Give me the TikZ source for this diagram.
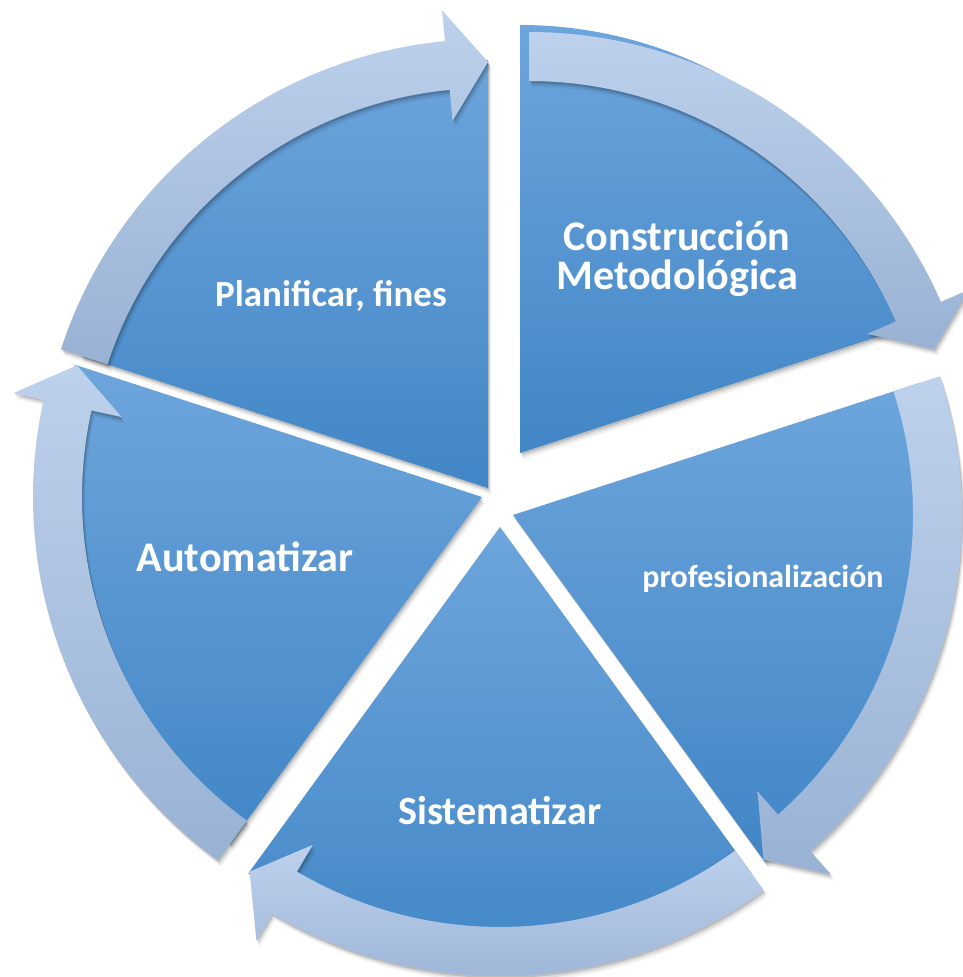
\documentclass[tikz,border=0pt]{standalone}
\usepackage{fontspec}
\setmainfont{Carlito}
\usetikzlibrary{shadows}
\definecolor{segtop}{HTML}{6DA5DC}
\definecolor{segmid}{HTML}{5598D7}
\definecolor{segbot}{HTML}{4186C6}
\definecolor{arrtop}{HTML}{BDD1EC}
\definecolor{arrbot}{HTML}{99B2D4}

\begin{document}
\begin{tikzpicture}[x=0.1mm,y=0.1mm,
  soft/.style={drop shadow={shadow xshift=0.3pt,shadow yshift=-0.6pt,fill=black,opacity=.14},
               drop shadow={shadow xshift=0.6pt,shadow yshift=-1.2pt,fill=black,opacity=.09},
               drop shadow={shadow xshift=0.9pt,shadow yshift=-1.8pt,fill=black,opacity=.05}},
  seg/.style={soft,top color=segtop,middle color=segmid,bottom color=segbot},
  band/.style={soft,top color=arrtop,bottom color=arrbot},
  lbl/.style={text=white,font=\bfseries\fontsize{12}{11.1}\selectfont,align=center,anchor=base}]
\useasboundingbox (0,0) rectangle (963,977);

% pie pieces: apex x / apex y / first edge
\foreach \x/\y/\a in {488/489/90, 520/524/18, 513/462/-54, 500/450/-126, 482/480/162}
  \path[seg] (\x,\y) -- ++(\a:428) arc[start angle=\a, delta angle=72, radius=428] -- cycle;

% curved arrows, running clockwise from tail edge \s to tip edge \e
\foreach \x/\y/\s [evaluate=\s as \e using \s-72, evaluate=\s as \b using \s-66.5]
    in {488/489/162, 529/496/90, 513/462/18, 500/450/-54, 482/480/-126}
  \path[band,shift={(\x,\y)}] (\s:400) arc[start angle=\s, end angle=\b, radius=400]
    -- (\b:369) -- (\e:426) -- (\b:480) -- (\b:449)
    arc[start angle=\b, end angle=\s, radius=449] -- cycle;

\node[lbl,font=\bfseries\fontsize{10.5}{12}\selectfont] (plan) at (331,670) {Planificar, fines};
\node[lbl,anchor=center] (cons) at (677,718) {Construcción\\Metodológica};
\node[lbl,font=\bfseries\fontsize{9.1}{11}\selectfont] (prof) at (763,389) {profesionalización};
\node[lbl,font=\bfseries\fontsize{11.4}{13}\selectfont] (sist) at (500,152) {Sistematizar};
\node[lbl] (auto) at (245,405) {Automatizar};
\end{tikzpicture}
\end{document}
